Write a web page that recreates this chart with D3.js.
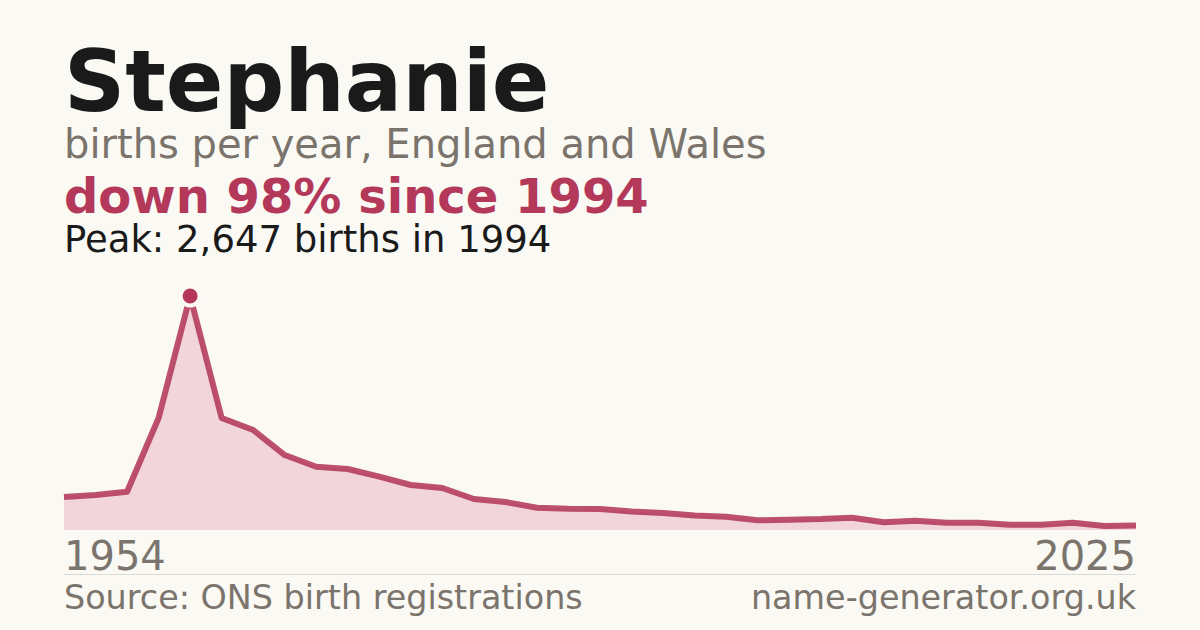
<!DOCTYPE html>
<html lang="en">
<head>
    <meta charset="UTF-8">
    <script src="https://cdn.jsdelivr.net/npm/d3@7"></script>
    <title>Stephanie</title>
    <style>
        body { margin: 0; background: #faf9f4; }
        svg { display: block; font-family: "DejaVu Sans", sans-serif; }
    </style>
</head>
<body>
    <svg id="chart" width="1200" height="630"></svg>
    <script>
        const years = [1954, 1964, 1974, 1984,
            1994, 1995, 1996, 1997, 1998, 1999, 2000, 2001, 2002, 2003, 2004, 2005,
            2006, 2007, 2008, 2009, 2010, 2011, 2012, 2013, 2014, 2015, 2016, 2017,
            2018, 2019, 2020, 2021, 2022, 2023, 2024];
        const births = [373, 396, 433, 1267,
            2647, 1267, 1131, 848, 716, 690, 603, 509, 475, 351, 317, 252,
            241, 238, 209, 192, 164, 150, 110, 117, 124, 139, 87, 105,
            83, 83, 60, 60, 83, 45, 52];
        const tickLabels = ["1954", "2025"];

        const W = 1200, H = 630;
        const plotLeft = 64, plotRight = 1136, plotTop = 296, plotBottom = 530;
        const bg = "#faf9f4", red = "#b3385a", grey = "#7a746c";

        const svg = d3.select("#chart");
        svg.append("rect").attr("width", W).attr("height", H).attr("fill", bg);

        const x = d3.scalePoint().domain(years).range([plotLeft, plotRight]);
        const y = d3.scaleLinear().domain([0, d3.max(births)]).range([plotBottom, plotTop]);

        const data = years.map((yr, i) => ({ year: yr, value: births[i] }));

        // headline text
        svg.append("text").attr("x", 64).attr("y", 111)
            .attr("font-size", 85).attr("font-weight", "bold").attr("fill", "#1a1a1a")
            .text("Stephanie");
        svg.append("text").attr("x", 64).attr("y", 158)
            .attr("font-size", 40).attr("fill", grey)
            .text("births per year, England and Wales");
        svg.append("text").attr("x", 64).attr("y", 213)
            .attr("font-size", 48).attr("font-weight", "bold").attr("fill", red)
            .text("down 98% since 1994");
        svg.append("text").attr("x", 64).attr("y", 252)
            .attr("font-size", 37).attr("fill", "#1a1a1a")
            .text("Peak: 2,647 births in 1994");

        // area + line
        svg.append("path").datum(data)
            .attr("fill", "#f1d5db")
            .attr("d", d3.area().x(d => x(d.year)).y0(plotBottom).y1(d => y(d.value)));
        svg.append("path").datum(data)
            .attr("fill", "none").attr("stroke", red).attr("stroke-width", 6)
            .attr("stroke-opacity", 0.88).attr("stroke-linejoin", "round")
            .attr("d", d3.line().x(d => x(d.year)).y(d => y(d.value)));

        // peak marker
        const peak = data[d3.maxIndex(data, d => d.value)];
        svg.append("circle").attr("cx", x(peak.year)).attr("cy", y(peak.value))
            .attr("r", 9.5).attr("fill", red).attr("stroke", bg).attr("stroke-width", 4);

        // axis end labels
        svg.append("text").attr("x", x.range()[0]).attr("y", 570)
            .attr("font-size", 40).attr("fill", grey).text(tickLabels[0]);
        svg.append("text").attr("x", x.range()[1]).attr("y", 570)
            .attr("font-size", 40).attr("fill", grey).attr("text-anchor", "end").text(tickLabels[1]);

        svg.append("line").attr("x1", plotLeft).attr("x2", plotRight).attr("y1", 574.5).attr("y2", 574.5)
            .attr("stroke", "#dddad3").attr("stroke-width", 1);

        svg.append("text").attr("x", 64).attr("y", 609)
            .attr("font-size", 33.4).attr("fill", grey).text("Source: ONS birth registrations");
        svg.append("text").attr("x", 1136).attr("y", 609).attr("text-anchor", "end")
            .attr("font-size", 33.4).attr("fill", grey).text("name-generator.org.uk");
    </script>
</body>
</html>
